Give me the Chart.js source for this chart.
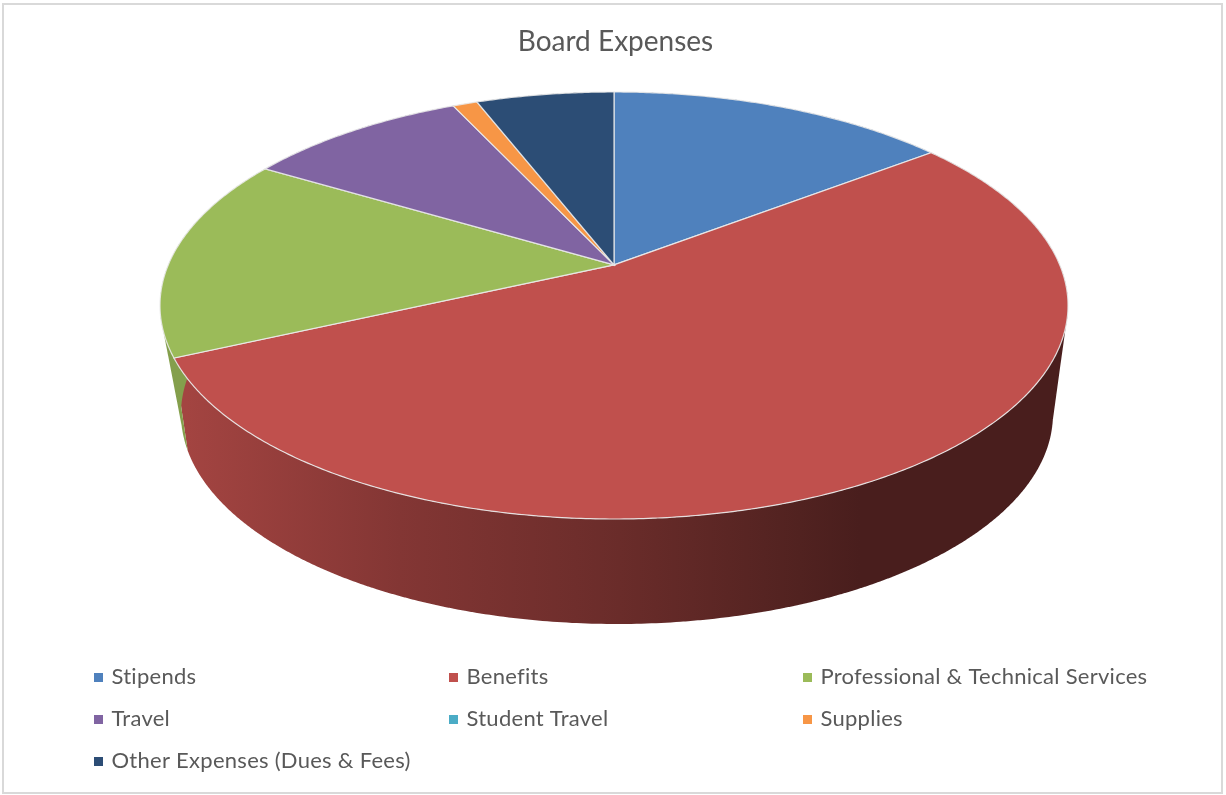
<!DOCTYPE html>
<html>
<head>
<meta charset="utf-8">
<title>Board Expenses</title>
<style>
	html, body { margin: 0; padding: 0; background: #fff; }
	canvas { display: block; }
</style>
</head>
<body>
<canvas id="pie" width="1226" height="795"></canvas>
<script src="https://cdn.jsdelivr.net/npm/chart.js@4/dist/chart.umd.js"></script>
<script>
const categories = ["Stipends", "Benefits", "Professional & Technical Services", "Travel", "Student Travel", "Supplies", "Other Expenses (Dues & Fees)"];
const shares = [14.6, 53.6, 15.4, 9.5, 0, 1.05, 5.9];
const colors = ["#4F81BD", "#C0504D", "#9BBB59", "#8064A2", "#4BACC6", "#F79646", "#2C4D75"];

// ellipse of the top face and of the bottom edge, k moves the pie centre up (perspective)
const topFace = { x: 614, y: 305.5, rx: 454, ry: 213.5, k: -0.19 };
const bottomFace = { x: 617, y: 414, rx: 436, ry: 210, k: -0.26 };
// side wall gets darker from left to right
const wallShade = [[186, 0.85], [400, 0.68], [620, 0.55], [800, 0.42], [860, 0.38]];

function project(face, angle) {
	const u = Math.cos(angle);
	const v = Math.sin(angle);
	const d = 1 + face.k * v;
	return {
		x: face.x + (face.rx * u * Math.sqrt(1 - face.k * face.k)) / d,
		y: face.y + (face.ry * (v + face.k)) / d
	};
}

function shadeColor(hex, f) {
	const n = parseInt(hex.slice(1), 16);
	return "rgb(" + Math.round((n >> 16) * f) + "," + Math.round(((n >> 8) & 255) * f) + "," + Math.round((n & 255) * f) + ")";
}

// 3D pie: the angles come from the chart's own arcs
const pie3d = {
	id: "pie3d",
	beforeDatasetsDraw(chart) {
		const ctx = chart.ctx;
		const arcs = chart.getDatasetMeta(0).data;
		ctx.save();
		// walls first, all strips of a slice in one path so there are no seams
		arcs.forEach((arc, i) => {
			if (arc.endAngle - arc.startAngle <= 0) return;
			const x0 = wallShade[0][0];
			const x1 = wallShade[wallShade.length - 1][0];
			const grad = ctx.createLinearGradient(x0, 0, x1, 0);
			wallShade.forEach((s) => grad.addColorStop((s[0] - x0) / (x1 - x0), shadeColor(colors[i], s[1])));
			const step = Math.PI / 360;
			ctx.beginPath();
			for (let a = arc.startAngle; a < arc.endAngle; a += step) {
				const b = Math.min(a + step, arc.endAngle) + 0.0005;
				const quad = [project(topFace, a), project(topFace, b), project(bottomFace, b), project(bottomFace, a)];
				let area = 0;
				quad.forEach((p, j) => {
					const q = quad[(j + 1) % 4];
					area += p.x * q.y - q.x * p.y;
				});
				if (area < 0) quad.reverse();
				ctx.moveTo(quad[0].x, quad[0].y);
				quad.slice(1).forEach((p) => ctx.lineTo(p.x, p.y));
				ctx.closePath();
			}
			ctx.fillStyle = grad;
			ctx.fill("nonzero");
		});
		// top face
		const apex = { x: topFace.x, y: topFace.y + topFace.ry * topFace.k };
		arcs.forEach((arc, i) => {
			if (arc.endAngle - arc.startAngle <= 0) return;
			ctx.beginPath();
			ctx.moveTo(apex.x, apex.y);
			const n = Math.ceil((arc.endAngle - arc.startAngle) / (Math.PI / 360));
			for (let j = 0; j <= n; j++) {
				const p = project(topFace, arc.startAngle + ((arc.endAngle - arc.startAngle) * j) / n);
				ctx.lineTo(p.x, p.y);
			}
			ctx.closePath();
			ctx.fillStyle = colors[i];
			ctx.fill();
			ctx.strokeStyle = "rgba(235,235,235,0.9)";
			ctx.lineWidth = 1.2;
			ctx.stroke();
		});
		ctx.restore();
		return false;
	}
};

// legend in three columns, excel style, and the frame
const gridLegend = {
	id: "gridLegend",
	afterDraw(chart) {
		const ctx = chart.ctx;
		const colX = [94, 449, 803];
		const rowY = [677, 719, 761];
		ctx.save();
		ctx.strokeStyle = "#d9d9d9";
		ctx.lineWidth = 2;
		ctx.strokeRect(3, 4, 1219, 789);
		ctx.font = "22px Lato";
		ctx.letterSpacing = "0.27px";
		ctx.textBaseline = "middle";
		categories.forEach((name, i) => {
			const x = colX[i % 3];
			const y = rowY[Math.floor(i / 3)];
			ctx.fillStyle = colors[i];
			ctx.fillRect(x, y - 4, 9, 9);
			ctx.fillStyle = "#595959";
			ctx.fillText(name, x + 17.5, y);
		});
		ctx.restore();
	}
};

new Chart(document.getElementById("pie"), {
	type: "pie",
	data: {
		labels: categories,
		datasets: [{ data: shares, backgroundColor: colors }]
	},
	options: {
		responsive: false,
		animation: false,
		devicePixelRatio: 1,
		layout: { padding: { left: 5 } },
		plugins: {
			legend: { display: false },
			tooltip: { enabled: false },
			title: {
				display: true,
				text: "Board Expenses",
				color: "#595959",
				font: { family: "Lato", size: 28, weight: "normal" },
				padding: { top: 25, bottom: 10 }
			}
		}
	},
	plugins: [pie3d, gridLegend]
});
</script>
</body>
</html>
